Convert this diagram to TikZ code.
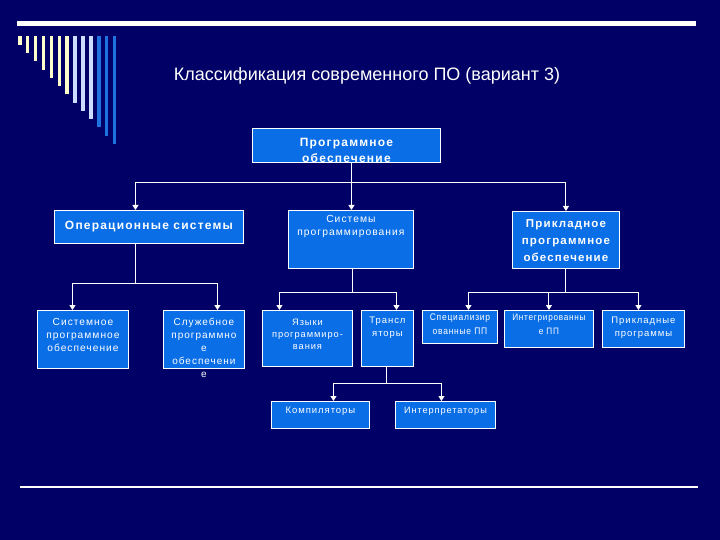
\documentclass[tikz,border=0pt]{standalone}
\usepackage{fontspec}
\setmainfont{Liberation Sans}
\newfontfamily\boxfont[LetterSpace=10]{Liberation Sans}
\newfontfamily\narrowfont[FakeStretch=0.88,LetterSpace=8]{Liberation Sans}
\usetikzlibrary{arrows.meta}

\definecolor{slidebg}{RGB}{0,0,102}
\definecolor{boxblue}{RGB}{10,110,230}
\definecolor{cream}{RGB}{255,255,204}
\definecolor{pale}{RGB}{204,221,255}
\definecolor{stripeblue}{RGB}{30,115,225}

\tikzset{
  pbox/.style={draw=white, line width=0.9pt, fill=boxblue, inner sep=0pt, anchor=north west},
  ptext/.style={text=white, align=center, inner sep=0pt, anchor=north,
    font=\boxfont\fontsize{9.5}{13}\selectfont},
  btext/.style={ptext, font=\boxfont\fontsize{12}{16}\selectfont\bfseries},
  ntext/.style={ptext, font=\narrowfont\fontsize{9.6}{13.5}\selectfont},
  link/.style={draw=white, line width=1pt},
  down/.style={link, -{Triangle[width=6pt,length=5pt]}}
}

\begin{document}
\begin{tikzpicture}[x=1pt,y=-1pt]

        \fill[slidebg] (0,0) rectangle (720,540);
        \useasboundingbox (0,0) rectangle (720,540);

        % slide decoration
        \fill[white] (17,21) rectangle (696,26);
        \foreach \i/\c in {0/cream,1/cream,2/cream,3/cream,4/cream,5/cream,6/cream,
                           7/pale,8/pale,9/pale,10/stripeblue,11/stripeblue,12/stripeblue}
          \fill[\c] (18+7.9*\i,36) rectangle ++(3.5,9+8.25*\i);
        \draw[white, line width=1.2pt] (20,487) -- (698,487);

        \node[text=white, font=\fontsize{18}{21}\selectfont] (title) at (367,76)
          {Классификация современного ПО (вариант 3)};

        % boxes
        \node[pbox, minimum width=188, minimum height=34] (po)  at (252,128) {};
        \node[pbox, minimum width=189, minimum height=33] (os)  at (54,210)  {};
        \node[pbox, minimum width=125, minimum height=58] (sp)  at (288,210) {};
        \node[pbox, minimum width=107, minimum height=57] (pp)  at (512,211) {};
        \node[pbox, minimum width=91,  minimum height=58] (sys) at (37,310)  {};
        \node[pbox, minimum width=81,  minimum height=58] (slu) at (163,310) {};
        \node[pbox, minimum width=90,  minimum height=56] (yaz) at (262,310) {};
        \node[pbox, minimum width=52,  minimum height=56] (tra) at (361,310) {};
        \node[pbox, minimum width=98,  minimum height=27] (kom) at (271,401) {};
        \node[pbox, minimum width=100, minimum height=27] (int) at (395,401) {};
        \node[pbox, minimum width=75,  minimum height=33] (spe) at (422,310) {};
        \node[pbox, minimum width=89,  minimum height=37] (ipp) at (504,310) {};
        \node[pbox, minimum width=82,  minimum height=37] (prg) at (602,310) {};

        % texts
        \node[btext] (po-t)  at ([yshift=-10]po.north)  {Программное\\обеспечение};
        \node[btext] (os-t)  at ([yshift=-10.5]os.north) {Операционные системы};
        \node[ptext, font=\boxfont\fontsize{10.3}{13}\selectfont] (sp-t)
          at ([yshift=-5.5]sp.north) {Системы\\программирования};
        \node[btext, font=\boxfont\fontsize{11.5}{17}\selectfont\bfseries] (pp-t)
          at ([yshift=-8.5]pp.north) {Прикладное\\программное\\обеспечение};
        \node[ptext, font=\boxfont\fontsize{10.2}{13}\selectfont] (sys-t)
          at ([yshift=-8]sys.north) {Системное\\программное\\обеспечение};
        \node[ptext, font=\boxfont\fontsize{10}{13}\selectfont] (slu-t)
          at ([yshift=-8]slu.north) {Служебное\\программно\\е\\обеспечени\\е};
        \node[ptext, font=\boxfont\fontsize{9.3}{12}\selectfont] (yaz-t)
          at ([yshift=-8.5]yaz.north) {Языки\\программиро-\\вания};
        \node[ptext] (tra-t) at ([yshift=-7]tra.north) {Трансл\\яторы};
        \node[ptext] (kom-t) at ([yshift=-6]kom.north) {Компиляторы};
        \node[ptext, font=\boxfont\fontsize{9.2}{13}\selectfont] (int-t)
          at ([yshift=-6]int.north) {Интерпретаторы};
        \node[ntext] (spe-t) at ([yshift=-4]spe.north) {Специализир\\ованные ПП};
        \node[ntext, font=\narrowfont\fontsize{9.3}{13.5}\selectfont] (ipp-t)
          at ([yshift=-4]ipp.north) {Интегрированны\\е ПП};
        \node[ptext] (prg-t) at ([yshift=-7]prg.north) {Прикладные\\программы};

        % connectors
        \draw[link] ([xshift=5]po.south) -- ++(0,20) coordinate (j0);
        \draw[down] (j0) -| ([xshift=-13.5]os.north);
        \draw[down] (j0) -- (j0 |- sp.north);
        \draw[down] (j0) -| (pp.north);

        \draw[link] ([xshift=-13.5]os.south) -- ++(0,40) coordinate (j1);
        \draw[down] (j1) -| ([xshift=-10.5]sys.north);
        \draw[down] (j1) -| ([xshift=13.5]slu.north);

        \draw[link] ([xshift=1.5]sp.south) -- ++(0,24) coordinate (j2);
        \draw[down] (j2) -| ([xshift=-28]yaz.north);
        \draw[down] (j2) -| ([xshift=9]tra.north);

        \draw[link] (pp.south) -- ++(0,24) coordinate (j3);
        \draw[down] (j3) -| ([xshift=8.5]spe.north);
        \draw[down] (j3) -| (ipp.north);
        \draw[down] (j3) -| ([xshift=-5]prg.north);

        \draw[link] ([xshift=-1]tra.south) -- ++(0,17) coordinate (j4);
        \draw[down] (j4) -| ([xshift=13]kom.north);
        \draw[down] (j4) -| ([xshift=-4]int.north);

\end{tikzpicture}
\end{document}
